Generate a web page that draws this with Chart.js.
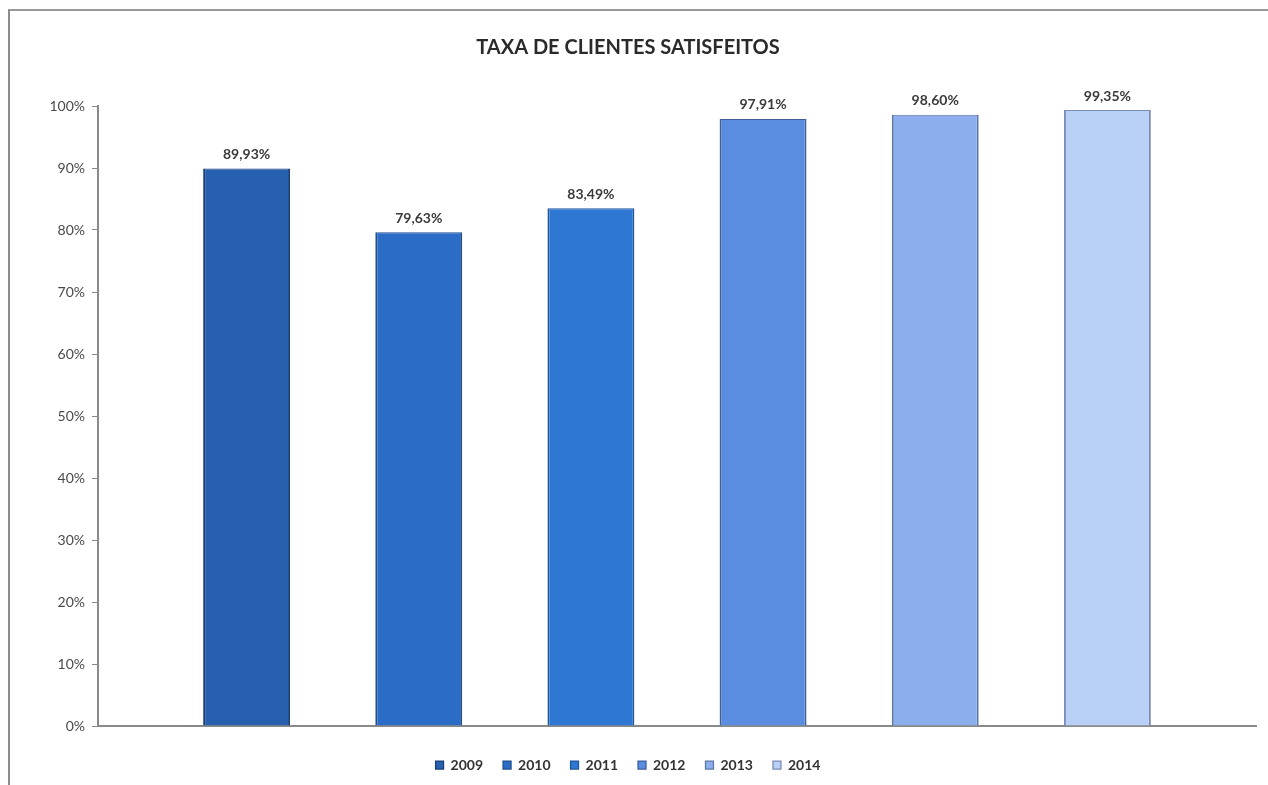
<!DOCTYPE html>
<html>
<head>
<meta charset="utf-8">
<script src="https://cdn.jsdelivr.net/npm/chart.js@4"></script>
<style>
  html, body { margin: 0; padding: 0; background: #fff; }
  #wrap { position: relative; width: 1268px; height: 785px; }
  #frame {
    position: absolute; left: 8px; top: 9px; right: -4px; bottom: -4px;
    border-left: 2px solid #8c8c8c; border-top: 2px solid #9a9a9a;
  }
  canvas { position: absolute; left: 0; top: 0; }
</style>
</head>
<body>
<div id="wrap">
  <div id="frame"></div>
  <canvas id="chart" width="1268" height="785"></canvas>
</div>
<script>
const chartTitle = 'TAXA DE CLIENTES SATISFEITOS';
const years = ['2009', '2010', '2011', '2012', '2013', '2014'];
const satisfied = [89.93, 79.63, 83.49, 97.91, 98.60, 99.35];
const fillColors = ['#2860b0', '#2b6dc6', '#2e78d3', '#5a8de0', '#8caeec', '#b8cff6'];
const edgeColors = ['#1b3f78', '#1f4d8e', '#22579a', '#3e5f9c', '#5f77a8', '#7a8cb4'];
const yTicks = [0, 10, 20, 30, 40, 50, 60, 70, 80, 90, 100];

const FONT = 'Lato, "Open Sans", sans-serif';

function formatPct(v, digits) {
    return v.toFixed(digits).replace('.', ',') + '%';
}

// value labels above each bar
const barLabels = {
    id: 'barLabels',
    afterDatasetsDraw(chart) {
        const { ctx } = chart;
        ctx.save();
        ctx.font = `bold 14px ${FONT}`;
        ctx.fillStyle = '#3a3a3a';
        ctx.textAlign = 'center';
        ctx.textBaseline = 'bottom';
        chart.data.datasets.forEach((ds, i) => {
            const meta = chart.getDatasetMeta(i);
            if (meta.hidden) return;
            const bar = meta.data[0];
            ctx.fillText(formatPct(ds.data[0], 2), bar.x, bar.y - 7);
        });
        ctx.restore();
    },
};

const datasets = years.map((year, i) => ({
    label: year,
    data: [satisfied[i]],
    backgroundColor: fillColors[i],
    borderColor: edgeColors[i],
    borderWidth: { left: 2, right: 2, top: 1, bottom: 0 },
    borderSkipped: 'bottom',
}));

new Chart(document.getElementById('chart').getContext('2d'), {
    type: 'bar',
    data: { labels: [''], datasets },
    plugins: [barLabels],
    options: {
        responsive: false,
        animation: false,
        layout: { padding: { left: 0, right: 12, top: 0, bottom: 3 } },
        datasets: {
            bar: { categoryPercentage: 0.892, barPercentage: 0.505 },
        },
        scales: {
            x: {
                ticks: { display: false },
                grid: { display: false },
                border: { display: true, color: '#8a8a8a', width: 2 },
                afterFit: (scale) => { scale.height = 12; },
            },
            y: {
                min: 0,
                max: 100,
                afterFit: (scale) => { scale.width = 98; },
                afterBuildTicks: (scale) => { scale.ticks = yTicks.map((v) => ({ value: v })); },
                ticks: {
                    color: '#4a4a4a',
                    font: { family: FONT, size: 14 },
                    padding: 7,
                    callback: (v) => v + '%',
                },
                grid: { drawOnChartArea: false, drawTicks: true, tickLength: 6, color: '#8a8a8a' },
                border: { display: true, color: '#8a8a8a', width: 2 },
            },
        },
        plugins: {
            title: {
                display: true,
                text: chartTitle,
                color: '#2a2a2a',
                font: { family: FONT, size: 20, weight: 'bold' },
                padding: { top: 36, bottom: 46 },
            },
            legend: {
                position: 'bottom',
                labels: {
                    color: '#333',
                    font: { family: FONT, size: 14, weight: 'bold' },
                    boxWidth: 8,
                    boxHeight: 8,
                    padding: 20,
                },
            },
            tooltip: { enabled: false },
        },
    },
});
</script>
</body>
</html>
